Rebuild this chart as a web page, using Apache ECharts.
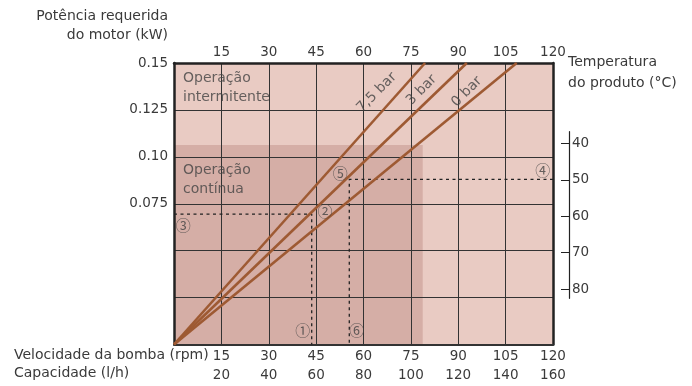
<!DOCTYPE html>
<html>
<head>
<meta charset="utf-8">
<script src="https://cdn.jsdelivr.net/npm/echarts@6/dist/echarts.min.js"></script>
<style>html,body{margin:0;padding:0;background:#fff;}#c{width:692px;height:386px;}</style>
</head>
<body>
<div id="c"></div>
<script>
// ---- data ----
const rpmTicks = [15, 30, 45, 60, 75, 90, 105, 120];
const capTicks = [20, 40, 60, 80, 100, 120, 140, 160];
const powerTicks = [0.075, 0.10, 0.125, 0.15];
const powerTickLabels = ['0.075', '0.10', '0.125', '0.15'];
const tempTicks = [40, 50, 60, 70, 80];
const line75bar = [[0, 0], [79.5, 0.15]];
const line3bar = [[0, 0], [92.7, 0.15]];
const line0bar = [[0, 0], [108.5, 0.15]];
const guideA = [[0, 0.0695], [43.6, 0.0695], [43.6, 0]];
const guideB = [[120, 0.088], [55.5, 0.088], [55.5, 0]];
const continuousZone = [[0, 0], [78.75, 0.1063]];
const fullZone = [[0, 0], [120, 0.15]];
const markers = [[40.75, 0.0077, '①'], [47.8, 0.0708, '②'], [2.95, 0.0637, '③'], [116.75, 0.093, '④'], [52.6, 0.0912, '⑤'], [57.85, 0.0077, '⑥']];
const zoneLabels = [[2.85, 0.1365, 'Operação\nintermitente'], [2.85, 0.0878, 'Operação\ncontínua']];
const curveLabels = [[64.2, 0.1343, '7,5 bar'], [78.4, 0.1356, '3 bar'], [92.7, 0.1347, '0 bar']];

// ---- style ----
const FONT = '"DejaVu Sans", sans-serif';
const CIRC = '"Noto Sans CJK SC", "DejaVu Sans", sans-serif';
const TXT = '#3a3a3a';
const LINE = '#9e5a33';
const ZL = 1;

const chart = echarts.init(document.getElementById('c'), null, {renderer: 'canvas'});
const pts = arr => arr.map(d => ({value: [d[0], d[1]], name: d[2]}));

chart.setOption({
  animation: false,
  grid: [
    {left: 174, right: 139, top: 63, bottom: 41.5, show: false},
    {left: 568, right: 123, top: 131.7, height: 166.6, show: false}
  ],
  xAxis: [
    {gridIndex: 0, type: 'value', position: 'bottom', min: 0, max: 120, interval: 15, zlevel: ZL,
     axisLine: {show: true, onZero: false, lineStyle: {color: '#333', width: 2}},
     axisTick: {show: false},
     axisLabel: {formatter: v => (rpmTicks.includes(v) ? String(v) : ''), margin: 5, fontSize: 13.5, fontFamily: FONT, color: TXT},
     splitLine: {show: true, lineStyle: {color: '#333', width: 1}}},
    {gridIndex: 0, type: 'value', position: 'top', min: 0, max: 120, interval: 15, zlevel: ZL,
     axisLine: {show: true, onZero: false, lineStyle: {color: '#222', width: 2.5}},
     axisTick: {show: false},
     axisLabel: {formatter: v => (rpmTicks.includes(v) ? String(v) : ''), margin: 4, fontSize: 13.5, fontFamily: FONT, color: TXT},
     splitLine: {show: false}},
    {gridIndex: 0, type: 'value', position: 'bottom', offset: 19, min: 0, max: 160, interval: 20, zlevel: ZL,
     axisLine: {show: false}, axisTick: {show: false},
     axisLabel: {formatter: v => (capTicks.includes(v) ? String(v) : ''), margin: 5, fontSize: 13.5, fontFamily: FONT, color: TXT},
     splitLine: {show: false}},
    {gridIndex: 1, type: 'value', min: 0, max: 1, show: false}
  ],
  yAxis: [
    {gridIndex: 0, type: 'value', position: 'left', min: 0, max: 0.15, interval: 0.025, zlevel: ZL,
     axisLine: {show: true, onZero: false, lineStyle: {color: '#222', width: 2.5}},
     axisTick: {show: false},
     axisLabel: {formatter: v => {
        const i = powerTicks.findIndex(t => Math.abs(t - v) < 1e-6);
        return i >= 0 ? powerTickLabels[i] : '';
      }, margin: 6, fontSize: 13.5, fontFamily: FONT, color: TXT},
     splitLine: {show: true, lineStyle: {color: '#333', width: 1}}},
    {gridIndex: 0, type: 'value', position: 'right', min: 0, max: 0.15, interval: 0.025, zlevel: ZL,
     axisLine: {show: true, onZero: false, lineStyle: {color: '#222', width: 2.5}},
     axisTick: {show: false}, axisLabel: {show: false}, splitLine: {show: false}},
    {gridIndex: 1, type: 'value', position: 'right', inverse: true, min: 36.8, max: 82.5, zlevel: ZL,
     axisLine: {show: true, onZero: false, lineStyle: {color: '#222', width: 1.2}},
     axisTick: {show: true, inside: true, length: 8, customValues: tempTicks, lineStyle: {color: '#222', width: 1}},
     axisLabel: {show: true, customValues: tempTicks, margin: 3, fontSize: 13.5, fontFamily: FONT, color: TXT},
     splitLine: {show: false}}
  ],
  series: [
    {type: 'line', xAxisIndex: 0, yAxisIndex: 0, data: [], zlevel: 0, z: 0, silent: true,
     markArea: {silent: true, data: [
       [{coord: fullZone[0], itemStyle: {color: '#e9cbc3'}}, {coord: fullZone[1]}],
       [{coord: continuousZone[0], itemStyle: {color: '#d5aea6'}}, {coord: continuousZone[1]}]
     ]}},
    {type: 'line', name: '7,5 bar', data: line75bar, showSymbol: false, zlevel: ZL, z: 3, silent: true, lineStyle: {color: LINE, width: 2.6}},
    {type: 'line', name: '3 bar', data: line3bar, showSymbol: false, zlevel: ZL, z: 3, silent: true, lineStyle: {color: LINE, width: 2.6}},
    {type: 'line', name: '0 bar', data: line0bar, showSymbol: false, zlevel: ZL, z: 3, silent: true, lineStyle: {color: LINE, width: 2.6}},
    {type: 'line', data: guideA, showSymbol: false, zlevel: ZL, z: 2, silent: true, lineStyle: {color: '#222', width: 1.3, type: [3, 3.5]}},
    {type: 'line', data: guideB, showSymbol: false, zlevel: ZL, z: 2, silent: true, lineStyle: {color: '#222', width: 1.3, type: [3, 3.5]}},
    {type: 'scatter', data: pts(markers), symbolSize: 0, zlevel: ZL, z: 4, silent: true,
     label: {show: true, position: 'inside', formatter: '{b}', fontSize: 15, fontFamily: CIRC, color: '#444'}},
    {type: 'scatter', data: pts(zoneLabels), symbolSize: 0, zlevel: ZL, z: 4, silent: true,
     label: {show: true, position: 'right', distance: 0, formatter: '{b}', fontSize: 14, lineHeight: 19, fontFamily: FONT, color: '#444'}},
    {type: 'scatter', data: pts(curveLabels), symbolSize: 0, zlevel: ZL, z: 4, silent: true,
     label: {show: true, position: 'inside', rotate: 45, formatter: '{b}', fontSize: 14, fontFamily: FONT, color: '#444'}}
  ],
  graphic: [
    {type: 'text', zlevel: ZL, z: 10, style: {text: 'Potência requerida\ndo motor (kW)', x: 168, y: 25.5, align: 'right', verticalAlign: 'middle', fontSize: 14, lineHeight: 19, fontFamily: FONT, fill: TXT}},
    {type: 'text', zlevel: ZL, z: 10, style: {text: 'Temperatura\ndo produto (°C)', x: 568, y: 72.5, align: 'left', verticalAlign: 'middle', fontSize: 14, lineHeight: 21, fontFamily: FONT, fill: TXT}},
    {type: 'text', zlevel: ZL, z: 10, style: {text: 'Velocidade da bomba (rpm)', x: 14, y: 355, align: 'left', verticalAlign: 'middle', fontSize: 14, fontFamily: FONT, fill: TXT}},
    {type: 'text', zlevel: ZL, z: 10, style: {text: 'Capacidade (l/h)', x: 14, y: 373.5, align: 'left', verticalAlign: 'middle', fontSize: 14, fontFamily: FONT, fill: TXT}}
  ]
});
</script>
</body>
</html>
